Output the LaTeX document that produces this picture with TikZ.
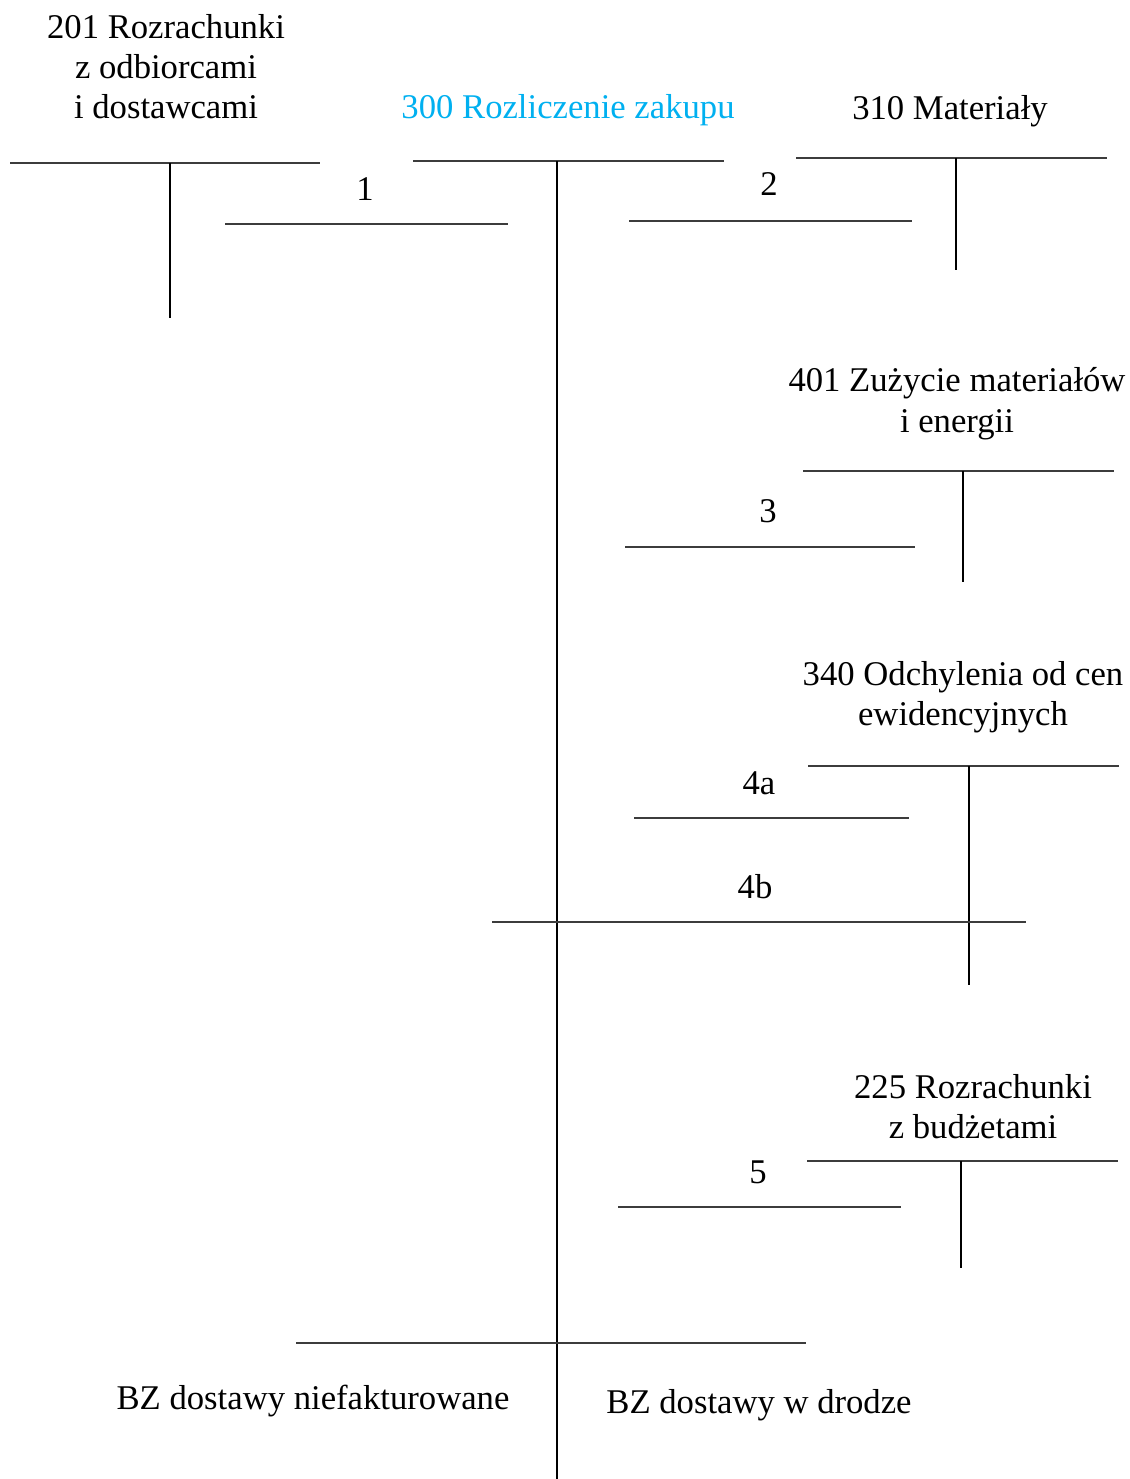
\documentclass[tikz,border=0pt]{standalone}
\usepackage{fontspec}
\setmainfont{Liberation Serif}
\definecolor{acccyan}{RGB}{0,176,240}
\definecolor{hline}{RGB}{60,60,60}
\begin{document}
\begin{tikzpicture}[x=0.75pt,y=-0.75pt,
  lbl/.style={anchor=base,inner sep=0pt,font=\fontsize{26}{30}\selectfont},
  hrule/.style={draw=hline,line width=1.5pt},
  vrule/.style={draw=black,line width=1.5pt}]
\useasboundingbox (0,0) rectangle (1130,1479);
% titles
\node[lbl] (t201a) at (166,38) {201 Rozrachunki};
\node[lbl] (t201b) at (166,78) {z odbiorcami};
\node[lbl] (t201c) at (166,118) {i dostawcami};
\node[lbl,text=acccyan] (t300) at (568,118) {300 Rozliczenie zakupu};
\node[lbl] (t310) at (950,119) {310 Materiały};
\node[lbl] (t401a) at (957,391) {401 Zużycie materiałów};
\node[lbl] (t401b) at (957,432) {i energii};
\node[lbl] (t340a) at (963,685) {340 Odchylenia od cen};
\node[lbl] (t340b) at (963,725) {ewidencyjnych};
\node[lbl] (t225a) at (973,1098) {225 Rozrachunki};
\node[lbl] (t225b) at (973,1138) {z budżetami};
\node[lbl] (l1) at (365,200) {1};
\node[lbl] (l2) at (769,195) {2};
\node[lbl] (l3) at (768,522) {3};
\node[lbl] (l4a) at (759,794) {4a};
\node[lbl] (l4b) at (755,898) {4b};
\node[lbl] (l5) at (758,1183) {5};
\node[lbl] (bzl) at (313,1409) {BZ dostawy niefakturowane};
\node[lbl] (bzr) at (759,1413) {BZ dostawy w drodze};
% account 201
\coordinate (a201l) at (10,163); \coordinate (a201r) at (320,163);
\coordinate (a201t) at (170,163); \coordinate (a201b) at (170,318);
\draw[hrule] (a201l) -- (a201r);
\draw[vrule] (a201t) -- (a201b);
% account 300
\coordinate (a300l) at (413,161); \coordinate (a300r) at (724,161);
\coordinate (a300t) at (557,161); \coordinate (a300b) at (557,1479);
\draw[hrule] (a300l) -- (a300r);
\draw[vrule] (a300t) -- (a300b);
% account 310
\coordinate (a310l) at (796,158); \coordinate (a310r) at (1107,158);
\coordinate (a310t) at (956,158); \coordinate (a310b) at (956,270);
\draw[hrule] (a310l) -- (a310r);
\draw[vrule] (a310t) -- (a310b);
% account 401
\coordinate (a401l) at (803,471); \coordinate (a401r) at (1114,471);
\coordinate (a401t) at (963,471); \coordinate (a401b) at (963,582);
\draw[hrule] (a401l) -- (a401r);
\draw[vrule] (a401t) -- (a401b);
% account 340
\coordinate (a340l) at (808,766); \coordinate (a340r) at (1119,766);
\coordinate (a340t) at (969,766); \coordinate (a340b) at (969,985);
\draw[hrule] (a340l) -- (a340r);
\draw[vrule] (a340t) -- (a340b);
% account 225
\coordinate (a225l) at (807,1161); \coordinate (a225r) at (1118,1161);
\coordinate (a225t) at (961,1161); \coordinate (a225b) at (961,1268);
\draw[hrule] (a225l) -- (a225r);
\draw[vrule] (a225t) -- (a225b);
% transaction lines
\coordinate (o1a) at (225,224); \coordinate (o1b) at (508,224);
\draw[hrule] (o1a) -- (o1b);
\coordinate (o2a) at (629,221); \coordinate (o2b) at (912,221);
\draw[hrule] (o2a) -- (o2b);
\coordinate (o3a) at (625,547); \coordinate (o3b) at (915,547);
\draw[hrule] (o3a) -- (o3b);
\coordinate (o4aa) at (634,818); \coordinate (o4ab) at (909,818);
\draw[hrule] (o4aa) -- (o4ab);
\coordinate (o4ba) at (492,922); \coordinate (o4bb) at (1026,922);
\draw[hrule] (o4ba) -- (o4bb);
\coordinate (o5a) at (618,1207); \coordinate (o5b) at (901,1207);
\draw[hrule] (o5a) -- (o5b);
\coordinate (bza) at (296,1343); \coordinate (bzb) at (806,1343);
\draw[hrule] (bza) -- (bzb);
\end{tikzpicture}
\end{document}
